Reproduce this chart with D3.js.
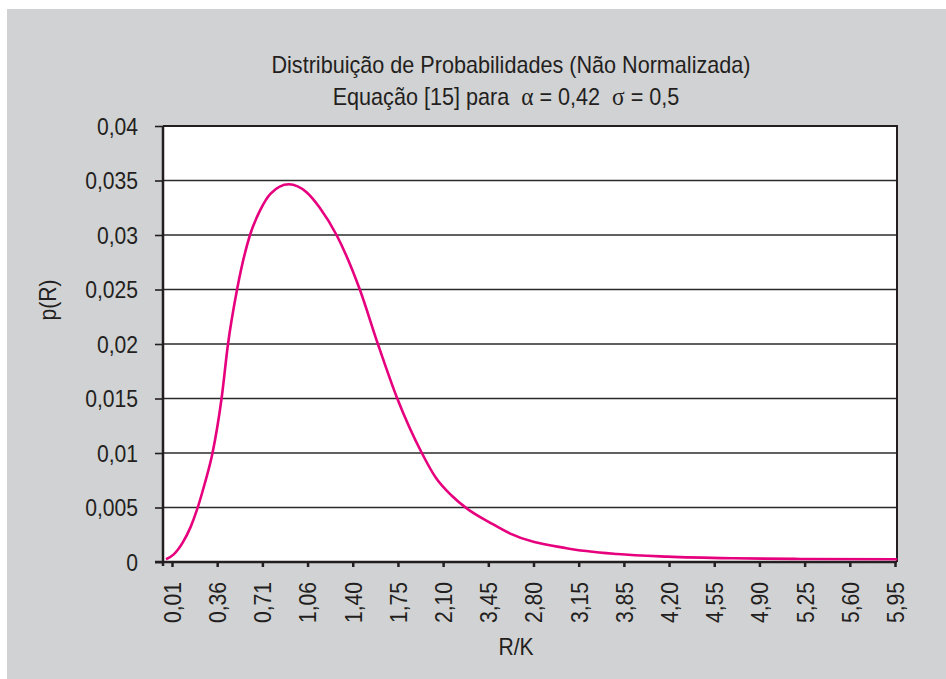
<!DOCTYPE html>
<html>
<head>
<meta charset="utf-8">
<script src="https://cdn.jsdelivr.net/npm/d3@7"></script>
<style>
  body { margin: 0; background: #fff; }
  svg text { font-family: "Liberation Sans Narrow", "Arial Narrow", "Liberation Sans", sans-serif; fill: #231f20; }
</style>
</head>
<body>
<svg id="chart" width="946" height="679"></svg>
<script>
// curva: R/K e p(R)
const rValues = [0.01, 0.07, 0.14, 0.20, 0.25, 0.31, 0.37, 0.44, 0.49, 0.56, 0.66, 0.74, 0.82, 0.96,
  1.10, 1.20, 1.33, 1.51, 1.65, 1.80, 1.99, 2.10, 2.22, 2.34, 2.52, 2.67, 3.11, 3.50, 3.89, 4.40, 4.92, 5.67]
const pValues = [0.00025, 0.0007, 0.0018, 0.0032, 0.0048, 0.0072, 0.0100, 0.0150, 0.0200, 0.0250,
  0.0300, 0.0323, 0.0338, 0.03465, 0.0339, 0.0325, 0.0300, 0.0250, 0.0200, 0.0150, 0.0100, 0.0077,
  0.0061, 0.0049, 0.0036, 0.00263, 0.00126, 0.00073, 0.00049, 0.00034, 0.00028, 0.00025]

// rótulos do eixo x (como aparecem no original)
const xLabels = ["0,01", "0,36", "0,71", "1,06", "1,40", "1,75", "2,10", "3,45", "2,80", "3,15",
  "3,85", "4,20", "4,55", "4,90", "5,25", "5,60", "5,95"]
const yTicks = [0, 0.005, 0.01, 0.015, 0.02, 0.025, 0.03, 0.035, 0.04]

const width = 946, height = 679
const mLeft = 163, mRight = 897, mTop = 126, mBottom = 562

const svg = d3.select('#chart')

// fonte estreita: comprime o texto na horizontal
function condense(sel, k) {
    sel.each(function () {
        const w = this.getComputedTextLength()
        d3.select(this).attr('textLength', w * k).attr('lengthAdjust', 'spacingAndGlyphs')
    })
}

svg.append('rect')
    .attr('x', 7).attr('y', 9)
    .attr('width', width - 7).attr('height', height - 9)
    .attr('fill', '#d1d2d4')

svg.append('rect')
    .attr('x', mLeft).attr('y', mTop)
    .attr('width', mRight - mLeft).attr('height', mBottom - mTop)
    .attr('fill', '#fff')

const x = d3.scaleLinear().domain([0.01, 5.66]).range([166, 896])
const xTick = d3.scalePoint().domain(xLabels).range([172, 895])
const y = d3.scaleLinear().domain([0, 0.04]).range([mBottom, mTop])

const fmt = d => d3.format('')(d).replace('.', ',')

// linhas de grade
svg.append('g')
    .selectAll('line')
    .data(yTicks.slice(1))
    .join('line')
    .attr('x1', mLeft).attr('x2', mRight)
    .attr('y1', d => y(d)).attr('y2', d => y(d))
    .attr('stroke', '#2b2b2b')
    .attr('stroke-width', 1.6)

// eixo y
const yAxis = svg.append('g')
    .attr('transform', `translate(${mLeft},0)`)
    .call(d3.axisLeft(y).tickValues(yTicks).tickFormat(fmt).tickSize(8).tickPadding(17))
yAxis.select('.domain').remove()
yAxis.selectAll('line').attr('stroke', '#231f20').attr('stroke-width', 1.6)
yAxis.selectAll('text').style('font-size', '24px').attr('dy', '0.35em')
condense(yAxis.selectAll('text'), 0.88)

// eixo x
const xAxis = svg.append('g')
    .attr('transform', `translate(0,${mBottom})`)
    .call(d3.axisBottom(xTick).tickSize(5).tickSizeOuter(0))
xAxis.select('.domain').remove()
xAxis.selectAll('line').attr('stroke', '#231f20').attr('stroke-width', 2.5)
xAxis.selectAll('text')
    .style('font-size', '24px')
    .attr('transform', 'rotate(-90)')
    .attr('text-anchor', 'end')
    .attr('x', -20).attr('y', 0).attr('dy', '0.35em')
condense(xAxis.selectAll('text'), 0.88)

// bordas da área do gráfico
svg.append('path')
    .attr('d', `M${mLeft},${mTop}H${mRight}V${mBottom}`)
    .attr('fill', 'none')
    .attr('stroke', '#231f20')
    .attr('stroke-width', 2)
svg.append('line')
    .attr('x1', mLeft).attr('x2', mLeft).attr('y1', mTop).attr('y2', mBottom + 4)
    .attr('stroke', '#231f20').attr('stroke-width', 2.5)
svg.append('line')
    .attr('x1', mLeft - 8).attr('x2', mRight).attr('y1', mBottom).attr('y2', mBottom)
    .attr('stroke', '#231f20').attr('stroke-width', 2.5)

// curva
const line = d3.line()
    .x((d, i) => x(rValues[i]))
    .y(d => y(d))
    .curve(d3.curveMonotoneX)

svg.append('path')
    .datum(pValues)
    .attr('d', line)
    .attr('fill', 'none')
    .attr('stroke', '#e6007e')
    .attr('stroke-width', 2.6)

// títulos
const t1 = svg.append('text')
    .attr('x', 511).attr('y', 73)
    .attr('text-anchor', 'middle')
    .style('font-size', '24px')
    .text('Distribuição de Probabilidades (Não Normalizada)')
condense(t1, 0.9)

const t2 = svg.append('text')
    .attr('transform', 'translate(506,105) scale(0.9,1)')
    .attr('text-anchor', 'middle')
    .style('font-size', '24px')
    .style('white-space', 'pre')
t2.append('tspan').text('Equação [15] para  ')
t2.append('tspan').style('font-family', '"Liberation Serif", serif').style('font-size', '26px').text('α')
t2.append('tspan').text(' = 0,42  ')
t2.append('tspan').style('font-family', '"Liberation Serif", serif').style('font-size', '26px').text('σ')
t2.append('tspan').text(' = 0,5')

const t3 = svg.append('text')
    .attr('x', 516).attr('y', 655)
    .attr('text-anchor', 'middle')
    .style('font-size', '24px')
    .text('R/K')
condense(t3, 0.88)

const t4 = svg.append('text')
    .attr('transform', 'translate(56,300) rotate(-90)')
    .attr('text-anchor', 'middle')
    .style('font-size', '24px')
    .text('p(R)')
condense(t4, 0.88)
</script>
</body>
</html>
